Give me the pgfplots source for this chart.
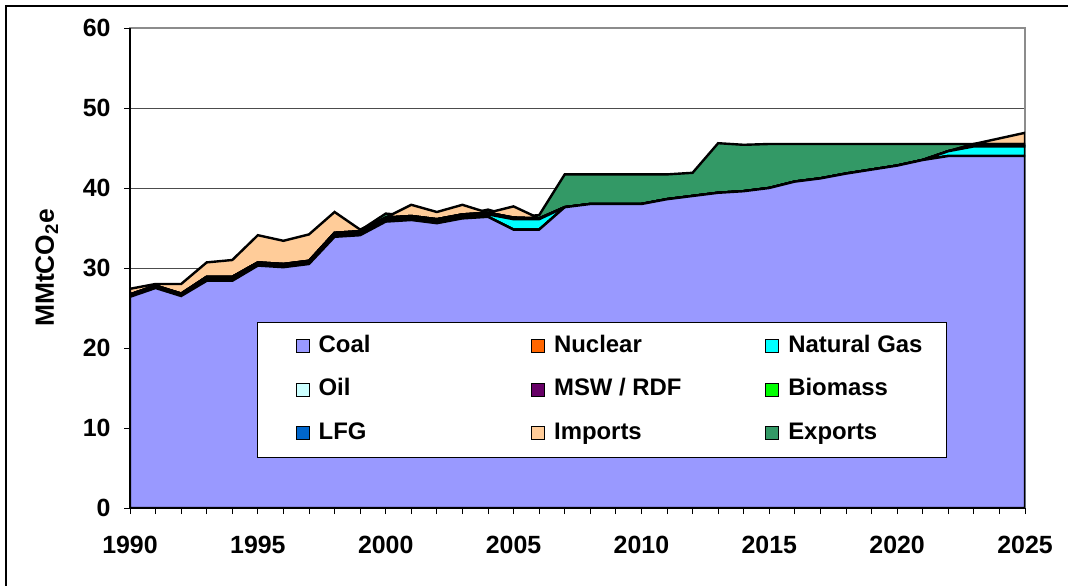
\documentclass[border=0pt]{standalone}
\usepackage{pgfplots}
\pgfplotsset{compat=1.18}
\usepackage{pgfplotstable}
\usepackage{fontspec}
\setmainfont{Liberation Sans}

\definecolor{coalc}{HTML}{9999FF}
\definecolor{nucc}{HTML}{FF6600}
\definecolor{ngc}{HTML}{00FFFF}
\definecolor{oilc}{HTML}{CCFFFF}
\definecolor{mswc}{HTML}{660066}
\definecolor{bioc}{HTML}{00FF00}
\definecolor{lfgc}{HTML}{0066CC}
\definecolor{impc}{HTML}{FFCC99}
\definecolor{expc}{HTML}{339966}

\pgfplotstableread{
year coal nuc ng oil msw bio lfg imp
1990 26.4 0 0.0 0 0.3 0 0 0.7
1991 27.5 0 0.0 0 0.3 0 0 0.2
1992 26.5 0 0.0 0 0.3 0 0 1.2
1993 28.4 0 0.2 0 0.3 0 0 1.8
1994 28.4 0 0.2 0 0.3 0 0 2.1
1995 30.3 0 0.1 0 0.3 0 0 3.4
1996 30.1 0 0.1 0 0.3 0 0 2.9
1997 30.5 0 0.1 0 0.3 0 0 3.3
1998 33.9 0 0.3 0 0.2 0 0 2.6
1999 34.1 0 0.3 0 0.2 0 0 0.2
2000 35.8 0 0.3 0 0.2 0 0 0.0
2001 36.0 0 0.3 0 0.2 0 0 1.4
2002 35.6 0 0.3 0 0.2 0 0 0.9
2003 36.2 0 0.3 0 0.2 0 0 1.2
2004 36.4 0 0.3 0 0.2 0 0 0.0
2005 34.8 0 1.3 0 0.2 0 0 1.4
2006 34.8 0 1.3 0 0.1 0 0 0.0
2007 37.6 0 0.0 0 0.0 0 0 0.0
2008 38.0 0 0.0 0 0.0 0 0 0.0
2009 38.0 0 0.0 0 0.0 0 0 0.0
2010 38.0 0 0.0 0 0.0 0 0 0.0
2011 38.6 0 0.0 0 0.0 0 0 0.0
2012 39.0 0 0.0 0 0.0 0 0 0.0
2013 39.4 0 0.0 0 0.0 0 0 0.0
2014 39.6 0 0.0 0 0.0 0 0 0.0
2015 40.0 0 0.0 0 0.0 0 0 0.0
2016 40.8 0 0.0 0 0.0 0 0 0.0
2017 41.2 0 0.0 0 0.0 0 0 0.0
2018 41.8 0 0.0 0 0.0 0 0 0.0
2019 42.3 0 0.0 0 0.0 0 0 0.0
2020 42.8 0 0.0 0 0.0 0 0 0.0
2021 43.5 0 0.0 0 0.0 0 0 0.0
2022 44.0 0 0.6 0 0.0 0 0 0.0
2023 44.0 0 1.2 0 0.0 0 0.3 0.0
2024 44.0 0 1.2 0 0.0 0 0.3 0.7
2025 44.0 0 1.2 0 0.0 0 0.3 1.4
}\gen

\pgfplotstableread{
year exp
1990 25.9
1991 27.0
1992 26.0
1993 27.9
1994 27.9
1995 29.8
1996 29.6
1997 30.0
1998 33.4
1999 34.7
2000 36.8
2001 36.5
2002 36.2
2003 36.6
2004 37.3
2005 36.4
2006 36.6
2007 41.7
2008 41.7
2009 41.7
2010 41.7
2011 41.7
2012 41.9
2013 45.6
2014 45.4
2015 45.5
2016 45.5
2017 45.5
2018 45.5
2019 45.5
2020 45.5
2021 45.5
2022 45.5
2023 45.5
2024 45.5
2025 45.5
}\expo

\pgfplotsset{base/.style={
  scale only axis, width=895bp, height=480bp,
  xmin=1990, xmax=2025, ymin=0, ymax=60,
  at={(130bp,78bp)}, anchor=south west,
}}

\begin{document}
\begin{tikzpicture}
\path[use as bounding box] (0,0) rectangle (1068bp,586bp);
\draw[line width=1.5bp] (6bp,-10bp) -- (6bp,580bp) -- (1080bp,580bp);
\begin{axis}[base,
  axis line style={draw=black!45, line width=1.3bp},
  ymajorgrids, grid style={black!70, line width=0.7bp},
  xtick=\empty, ytick={10,20,...,50}, yticklabel=\empty,
  major tick length=0pt]
\addplot[fill=expc, draw=black, line width=2.4bp] table[x=year,y=exp]{\expo} \closedcycle;
\end{axis}
\begin{axis}[base,
  stack plots=y, axis on top,
  axis lines*=left,
  axis line style={-, black, line width=1.3bp},
  xtick={1990,1995,...,2025}, minor x tick num=4,
  ytick={0,10,...,60},
  tick align=outside, major tick length=6bp, minor tick length=6bp,
  tick style={black, line width=0.8bp},
  ticklabel style={font=\fontsize{25}{29}\selectfont\bfseries},
  xticklabel style={yshift=-19bp},
  yticklabel style={xshift=-10bp},
  /pgf/number format/assume math mode=true,
  /pgf/number format/1000 sep={},
  every axis y label/.style={at={(axis description cs:-0.093,0.5)}, rotate=90, anchor=center},
  ylabel={\fontsize{26.5}{30}\selectfont\bfseries MMtCO\textsubscript{2}e},
  legend columns=3, legend cell align=left,
  legend image code/.code={\path (-15bp,0bp); \draw[#1, draw=black, line width=0.9bp] (0bp,-6.5bp) rectangle (13bp,6.5bp);},
  legend style={at={(rel axis cs:0.143,0.3875)}, anchor=north west,
    draw=black, line width=1bp, fill=white, outer sep=0pt,
    inner xsep=22bp, inner ysep=11bp,
    font=\fontsize{24}{28}\selectfont\bfseries,
    row sep=17.5bp,
    nodes={inner sep=2bp, text height=17bp, text depth=5bp},
    /tikz/column 1/.style={column sep=7bp},
    /tikz/column 2/.style={column sep=143bp},
    /tikz/column 3/.style={column sep=7bp},
    /tikz/column 4/.style={column sep=66bp},
    /tikz/column 5/.style={column sep=7bp}},
]
\addplot[fill=coalc, draw=black, line width=2.4bp] table[x=year,y=coal]{\gen} \closedcycle;
\addlegendentry{Coal}
\addplot[fill=nucc, draw=black, line width=2.4bp] table[x=year,y=nuc]{\gen} \closedcycle;
\addlegendentry{Nuclear}
\addplot[fill=ngc, draw=black, line width=2.4bp] table[x=year,y=ng]{\gen} \closedcycle;
\addlegendentry{Natural Gas}
\addplot[fill=oilc, draw=black, line width=2.4bp] table[x=year,y=oil]{\gen} \closedcycle;
\addlegendentry{Oil}
\addplot[fill=mswc, draw=black, line width=2.4bp] table[x=year,y=msw]{\gen} \closedcycle;
\addlegendentry{MSW / RDF}
\addplot[fill=bioc, draw=black, line width=2.4bp] table[x=year,y=bio]{\gen} \closedcycle;
\addlegendentry{Biomass}
\addplot[fill=lfgc, draw=black, line width=2.4bp] table[x=year,y=lfg]{\gen} \closedcycle;
\addlegendentry{LFG}
\addplot[fill=impc, draw=black, line width=2.4bp] table[x=year,y=imp]{\gen} \closedcycle;
\addlegendentry{Imports}
\addlegendimage{fill=expc, draw=black}
\addlegendentry{Exports}
\end{axis}
\end{tikzpicture}
\end{document}
